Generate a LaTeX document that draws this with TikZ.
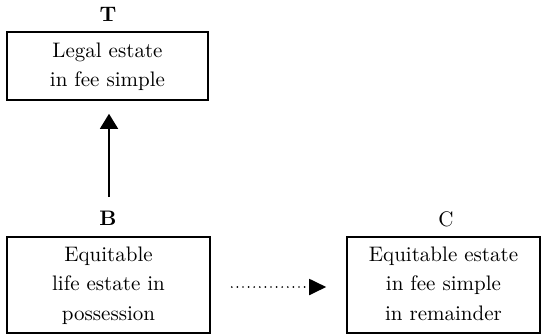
\documentclass[tikz,border=0pt]{standalone}
\usetikzlibrary{arrows.meta}
\usepackage{graphicx}
% text set at 10pt and enlarged, to keep the 10pt design of Latin Modern
\newcommand{\bigtext}[1]{\scalebox{2.1}{\fontsize{10}{14.05}\selectfont
  \begin{tabular}{@{}c@{}}#1\end{tabular}}}
\begin{document}
\begin{tikzpicture}[x=1pt,y=-1pt,
  estatebox/.style={draw, line width=1.6pt, inner sep=0pt},
  party/.style={inner sep=0pt},
  solidarrow/.style={line width=1.5pt, -{Triangle[width=18pt,length=15pt]}},
  dottedarrow/.style={line width=1.9pt, line cap=round, dash pattern=on 0pt off 5.6pt,
    -{Triangle[width=16pt,length=17pt]}}]
  \useasboundingbox (0,0) rectangle (543,335);

  % boxes
  \node[estatebox, minimum width=201pt, minimum height=68pt] (T) at (107.5,66)
    {\bigtext{Legal estate\\in fee simple}};
  \node[estatebox, minimum width=203pt, minimum height=96pt] (B) at (108.5,285)
    {\bigtext{Equitable\\life estate in\\possession}};
  \node[estatebox, minimum width=193pt, minimum height=96pt] (C) at (443.5,285)
    {\bigtext{Equitable estate\\in fee simple\\in remainder}};

  % party labels
  \node[party, anchor=base] (tT) at (108,20.5) {\bigtext{\bfseries T}};
  \node[party, anchor=base] (tB) at (108,225) {\bigtext{\bfseries B}};
  \node[party, anchor=base] (tC) at (446,226) {\bigtext{C}};

  % connectors
  \coordinate (foot) at (109,197);
  \draw[solidarrow, shorten >=13pt] (foot) -- (foot |- T.south);
  \draw[dottedarrow, shorten <=21pt, shorten >=20pt] ([yshift=-2pt]B.east) -- ([yshift=-2pt]C.west);
\end{tikzpicture}
\end{document}
